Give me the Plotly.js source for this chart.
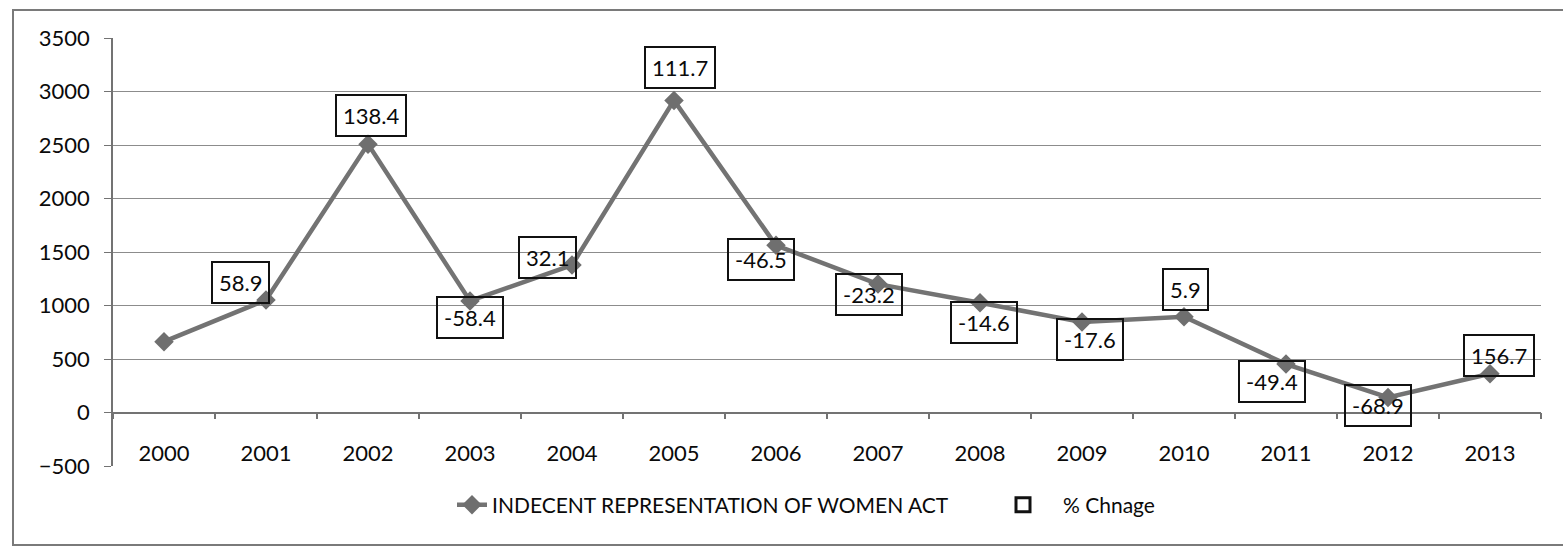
<!DOCTYPE html>
<html>
<head>
<meta charset="utf-8">
<script src="https://cdn.plot.ly/plotly-3.0.1.min.js"></script>
<style>
html,body{margin:0;padding:0;background:#fff;}
#chart{width:1563px;height:547px;}
</style>
</head>
<body>
<div id="chart"></div>
<script>
// ---- data ----
const years = ["2000","2001","2002","2003","2004","2005","2006","2007","2008","2009","2010","2011","2012","2013"];
const cases = [662, 1052, 2508, 1043, 1378, 2917, 1562, 1200, 1025, 845, 895, 453, 141, 362];
const pctChange = ["", "58.9", "138.4", "-58.4", "32.1", "111.7", "-46.5", "-23.2", "-14.6", "-17.6", "5.9", "-49.4", "-68.9", "156.7"];
const seriesName = "INDECENT REPRESENTATION OF WOMEN ACT";
const labelSeriesName = "% Chnage";
const yTicks = [-500, 0, 500, 1000, 1500, 2000, 2500, 3000, 3500];

// label box placement offsets (px, right / up) — layout only
const labelShift = [
  null, [-26, 17], [3, 29], [0, -17], [-25, 8], [6, 33], [-15, -14],
  [-9, -10], [4, -20], [8, -17], [1, 27], [-14, -17], [-10, -8], [9, 18]
];

const FONT = "Lato, 'Open Sans', sans-serif";
const GRID = "#8c8c8c";
const LINE = "#737373";
const TXT = "#0a0a0a";

const traces = [
  {
    type: "scatter",
    mode: "lines+markers",
    name: seriesName,
    x: years,
    y: cases,
    line: {color: LINE, width: 4.5},
    marker: {symbol: "diamond", size: 15, color: "#6f6f6f"},
    legend: "legend"
  },
  {
    type: "scatter",
    mode: "markers",
    name: labelSeriesName,
    x: [null],
    y: [null],
    marker: {symbol: "square-open", size: 14, color: "#111", line: {width: 3, color: "#111"}},
    legend: "legend2",
    hoverinfo: "skip"
  }
];

// category axis: annotations are placed by category index
const annotations = [];
for (let i = 0; i < years.length; i++) {
  if (!pctChange[i]) continue;
  annotations.push({
    x: i, y: cases[i], xref: "x", yref: "y",
    text: pctChange[i],
    showarrow: false,
    xanchor: "center", yanchor: "middle",
    xshift: labelShift[i][0],
    yshift: labelShift[i][1],
    font: {family: FONT, size: 22, color: TXT},
    bordercolor: "#111",
    borderwidth: 2,
    borderpad: 6
  });
}

const W = 1563, H = 547;
const mL = 113, mR = 22, mT = 38, mB = 81;
const pw = W - mL - mR, ph = H - mT - mB;
const px = v => (v - mL) / pw;
const py = v => (H - mB - v) / ph;

const layout = {
  width: W, height: H,
  margin: {l: mL, r: mR, t: mT, b: mB, pad: 0},
  paper_bgcolor: "#fff",
  plot_bgcolor: "#fff",
  font: {family: FONT, size: 21, color: TXT},
  showlegend: true,
  xaxis: {
    type: "category",
    range: [-0.5, 13.5],
    anchor: "free",
    position: 500 / 4000,
    showline: true, linecolor: LINE, linewidth: 1.5,
    ticks: "outside", tickson: "boundaries", ticklen: 6, tickcolor: LINE, tickwidth: 1.5,
    showgrid: false, zeroline: false,
    ticklabelstandoff: 21,
    tickfont: {family: FONT, size: 22, color: TXT},
    fixedrange: true
  },
  yaxis: {
    range: [-500, 3500],
    tickvals: yTicks,
    showgrid: true, gridcolor: GRID, gridwidth: 1.2,
    showline: true, linecolor: LINE, linewidth: 1.5,
    ticks: "outside", ticklen: 7, tickcolor: LINE, tickwidth: 1.2,
    zeroline: false,
    ticklabelstandoff: 10,
    tickfont: {family: FONT, size: 22, color: TXT},
    fixedrange: true
  },
  legend: {
    orientation: "h",
    x: px(452), y: py(505), xanchor: "left", yanchor: "middle",
    font: {family: FONT, size: 21, color: TXT},
    bgcolor: "rgba(0,0,0,0)", borderwidth: 0
  },
  legend2: {
    orientation: "h",
    x: px(983), y: py(505), xanchor: "left", yanchor: "middle",
    itemwidth: 70,
    font: {family: FONT, size: 21, color: TXT},
    bgcolor: "rgba(0,0,0,0)", borderwidth: 0
  },
  annotations: annotations,
  shapes: [
    {type: "rect", xref: "paper", yref: "paper",
     x0: px(13), x1: px(1620), y0: py(545), y1: py(10),
     line: {color: "#7a7a7a", width: 2}, fillcolor: "rgba(0,0,0,0)", layer: "below"}
  ]
};

Plotly.newPlot("chart", traces, layout, {displayModeBar: false});
</script>
</body>
</html>
